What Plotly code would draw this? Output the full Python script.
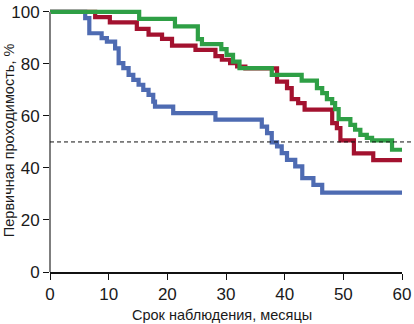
import plotly.graph_objects as go

# ---- data ----
green_t = [0, 15.2, 21.3, 25.2, 25.9, 29.2, 30.1, 31.2, 32.3, 37.8, 42.9, 45.5, 46.4,
           47.2, 48.1, 48.6, 49.2, 51.2, 52.0, 52.9, 54.0, 54.9, 58.3, 60]
green_s = [100, 97.3, 94.4, 89.5, 87.6, 85.7, 83.5, 80.9, 78.4, 75.8, 73.6, 70.7, 68.8,
           66.5, 64.9, 62.6, 58.8, 56.6, 54.7, 52.7, 51.6, 50.6, 47.0, 47.0]

red_t = [0, 7.7, 10.2, 14.8, 16.8, 19.1, 20.8, 24.8, 28.2, 29.3, 30.7, 31.9, 33.3, 38.7,
         40.4, 41.2, 42.3, 43.4, 48.1, 48.9, 49.5, 51.8, 55.1, 60]
red_s = [100, 98.0, 96.0, 93.5, 91.3, 89.6, 87.0, 85.4, 83.0, 81.6, 80.3, 79.0, 78.3, 73.2,
         70.7, 66.5, 64.9, 62.4, 57.2, 55.3, 50.6, 45.6, 43.0, 43.0]

blue_t = [0, 6.0, 6.7, 8.8, 9.7, 11.1, 11.7, 12.5, 13.4, 14.2, 15.1, 15.9, 16.8, 17.6,
          17.9, 21.0, 28.2, 36.1, 37.0, 37.8, 38.7, 39.5, 40.4, 41.8, 43.0, 44.9, 46.4, 60]
blue_s = [100, 97.6, 91.8, 89.9, 88.6, 86.0, 80.3, 78.4, 75.8, 73.9, 72.0, 70.0, 68.1, 65.5,
          63.6, 61.1, 58.6, 55.9, 53.4, 49.8, 48.3, 45.7, 43.1, 40.6, 36.1, 33.5, 30.5, 30.5]

median_level = 50
x_ticks = [0, 10, 20, 30, 40, 50, 60]
y_ticks = [0, 20, 40, 60, 80, 100]
x_title = "Срок наблюдения, месяцы"
y_title = "Первичная проходимость, %"

Y_MAX = 101.5

fig = go.Figure()
for t, s, c in [(blue_t, blue_s, "#4e6bb2"), (red_t, red_s, "#a3122f"), (green_t, green_s, "#2e9f45")]:
    fig.add_trace(go.Scatter(x=t, y=s, mode="lines", line=dict(color=c, width=4.2, shape="hv"),
                             showlegend=False, hoverinfo="skip"))

FAM = "Liberation Sans Narrow, Arial Narrow, Liberation Sans, sans-serif"
tick_font = dict(family=FAM, size=17, color="#1a1a1a")
title_font = dict(family=FAM, size=14.5, color="#1a1a1a")

fig.update_layout(
    width=414, height=324,
    margin=dict(l=50, r=12, t=8, b=52),
    paper_bgcolor="white", plot_bgcolor="white",
    xaxis=dict(range=[0, 60], tickvals=x_ticks, ticks="outside", ticklen=6, tickwidth=1,
               tickcolor="#111", showline=True, linecolor="#111", linewidth=1.5,
               showgrid=False, zeroline=False, automargin=False, tickfont=tick_font),
    yaxis=dict(range=[0, Y_MAX], tickvals=y_ticks, ticks="outside", ticklen=6, tickwidth=1,
               tickcolor="#111", showline=False, showgrid=False, zeroline=False,
               automargin=False, tickfont=tick_font),
)

# axis titles as annotations (positioned in paper units)
fig.add_annotation(text=x_title, xref="paper", yref="paper", x=0.488, y=-0.163,
                   xanchor="center", yanchor="middle", showarrow=False, font=title_font)
fig.add_annotation(text=y_title, xref="paper", yref="paper", x=-0.116, y=0.5,
                   xanchor="center", yanchor="middle", showarrow=False, textangle=-90,
                   font=title_font)

# gray y-axis line from 0 to 100
fig.add_shape(type="line", xref="x domain", yref="y domain", x0=0, x1=0,
              y0=0, y1=100 / Y_MAX, line=dict(color="#7f7f7f", width=2))
# dashed median line (extends past the plot on the right)
fig.add_shape(type="line", xref="x domain", yref="y domain", x0=0, x1=1.04,
              y0=median_level / Y_MAX, y1=median_level / Y_MAX,
              line=dict(color="#111", width=1, dash="4px,3px"))

fig.write_html("out.html", config={"displayModeBar": False},
               post_script="document.body.style.margin='0';document.body.style.overflow='hidden';")
